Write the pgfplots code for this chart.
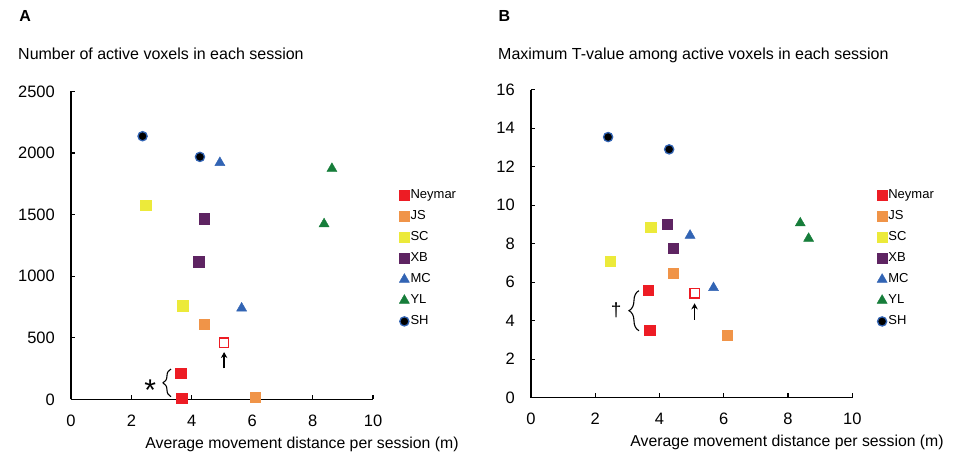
\documentclass[border=0pt]{standalone}
\usepackage{fontspec}
\setmainfont{Liberation Sans}
\usepackage{pgfplots}
\pgfplotsset{compat=1.18}
\usetikzlibrary{decorations.pathreplacing, arrows.meta}
\definecolor{cNey}{RGB}{237,28,36}
\definecolor{cJS}{RGB}{240,148,72}
\definecolor{cSC}{RGB}{236,234,58}
\definecolor{cXB}{RGB}{94,36,98}
\definecolor{cMC}{RGB}{50,100,180}
\definecolor{cYL}{RGB}{22,125,58}
\pgfplotsset{
  panel/.style={
    scale only axis,
    axis x line*=bottom, axis y line*=left,
    axis line style={-, line width=1.2bp, black},
    tick align=inside, major tick length=4.3bp,
    tick style={line width=1.2bp, black},
    xmin=0, xmax=10, xtick={0,2,...,10}, ymin=0,
    tick label style={font=\fontsize{16.5bp}{19bp}\selectfont},
    /pgf/number format/assume math mode=true,
    /pgf/number format/1000 sep={},
    scaled ticks=false,
    yticklabel style={inner sep=0pt, anchor=east, xshift=-16bp},
    xticklabel style={inner sep=0pt, anchor=north, yshift=-15.5bp},
    clip=false,
    label style={font=\fontsize{15.8bp}{19bp}\selectfont},
    legend cell align=left,
    legend image code/.code={\draw[mark repeat=2,mark phase=2,##1] plot coordinates {(0cm,0cm) (0.14cm,0cm) (0.28cm,0cm)};},
    legend style={draw=none, fill=none, inner sep=0pt, anchor=north west,
      font=\fontsize{13bp}{15bp}\selectfont,
      nodes={inner sep=1bp, text height=9.5bp, text depth=2.5bp},
      row sep=7bp, column sep=0bp},
  },
  sq/.style={only marks, mark=square*, mark size=5.2bp, mark options={draw=#1, fill=#1}, color=#1},
  tri/.style={only marks, mark=triangle*, mark size=5.8bp, mark options={draw=#1, fill=#1}, color=#1},
  sh/.style={only marks, mark=*, mark size=4.6bp, mark options={draw=cMC, fill=black, line width=1.3bp}, color=black},
  opensq/.style={only marks, mark=square*, mark size=4.6bp, mark options={draw=cNey, fill=white, line width=1.3bp}},
}
\begin{document}
\begin{tikzpicture}[x=1bp,y=1bp]
\path[use as bounding box] (0,0) rectangle (968,462);
\node[anchor=base west, inner sep=0pt, font=\fontsize{16bp}{19bp}\selectfont\bfseries] at (19.3,440.3) {A};
\node[anchor=base west, inner sep=0pt, font=\fontsize{16bp}{19bp}\selectfont] at (18,402) {Number of active voxels in each session};
\node[anchor=base west, inner sep=0pt, font=\fontsize{16bp}{19bp}\selectfont\bfseries] at (498.3,440.3) {B};
\node[anchor=base west, inner sep=0pt, font=\fontsize{16bp}{19bp}\selectfont] at (498,402) {Maximum T-value among active voxels in each session};

% Panel A
\begin{axis}[panel, at={(71bp,62.5bp)}, anchor=south west, width=302bp, height=308bp,
  ymax=2500, ytick={0,500,...,2500},
  xlabel={Average movement distance per session (m)},
  x label style={at={(axis description cs:0.765,0)}, anchor=base, inner sep=0pt, yshift=-49bp},
  legend style={at={(axis description cs:1.086,0.686)}}]
\addplot[sq=cNey] coordinates {(3.63,212) (3.66,10)};
\addlegendentry{Neymar}
\addplot[sq=cJS] coordinates {(4.41,612) (6.09,18)};
\addlegendentry{JS}
\addplot[sq=cSC] coordinates {(2.48,1575) (3.70,761)};
\addlegendentry{SC}
\addplot[sq=cXB] coordinates {(4.41,1466) (4.23,1118)};
\addlegendentry{XB}
\addplot[tri=cMC] coordinates {(4.93,1922) (5.65,741)};
\addlegendentry{MC}
\addplot[tri=cYL] coordinates {(8.64,1874) (8.38,1425)};
\addlegendentry{YL}
\addplot[sh] coordinates {(2.37,2137) (4.27,1969)};
\addlegendentry{SH}
\addplot[opensq, forget plot] coordinates {(5.07,461)};
\draw[-{Stealth[length=6bp,width=6.5bp]}, line width=1.6bp] (axis cs:5.07,252) -- (axis cs:5.07,385);
\draw[decorate, decoration={brace, amplitude=8bp}, line width=1.1bp] (axis cs:3.31,23) -- (axis cs:3.31,247);
\node[inner sep=0pt, font=\fontsize{30bp}{30bp}\selectfont] at (axis cs:2.62,75) {*};
\end{axis}

% Panel B
\begin{axis}[panel, at={(531bp,64.3bp)}, anchor=south west, width=321.3bp, height=308bp,
  ymax=16, ytick={0,2,...,16},
  xlabel={Average movement distance per session (m)},
  x label style={at={(axis description cs:0.797,0)}, anchor=base, inner sep=0pt, yshift=-49bp},
  legend style={at={(axis description cs:1.076,0.680)}}]
\addplot[sq=cNey] coordinates {(3.65,5.59) (3.70,3.52)};
\addlegendentry{Neymar}
\addplot[sq=cJS] coordinates {(4.43,6.48) (6.11,3.26)};
\addlegendentry{JS}
\addplot[sq=cSC] coordinates {(3.73,8.87) (2.47,7.10)};
\addlegendentry{SC}
\addplot[sq=cXB] coordinates {(4.24,9.02) (4.43,7.76)};
\addlegendentry{XB}
\addplot[tri=cMC] coordinates {(4.95,8.43) (5.68,5.71)};
\addlegendentry{MC}
\addplot[tri=cYL] coordinates {(8.38,9.07) (8.64,8.27)};
\addlegendentry{YL}
\addplot[sh] coordinates {(2.40,13.54) (4.30,12.90)};
\addlegendentry{SH}
\addplot[opensq, forget plot] coordinates {(5.09,5.42)};
\draw[-{Stealth[length=6bp,width=6.5bp]}, line width=1.6bp] (axis cs:5.09,4.05) -- (axis cs:5.09,4.90);
\draw[decorate, decoration={brace, amplitude=10bp}, line width=1.1bp] (axis cs:3.36,3.48) -- (axis cs:3.36,5.56);
\node[inner sep=0pt, font=\fontsize{19bp}{19bp}\selectfont] at (axis cs:2.65,4.52) {†};
\end{axis}
\end{tikzpicture}
\end{document}
